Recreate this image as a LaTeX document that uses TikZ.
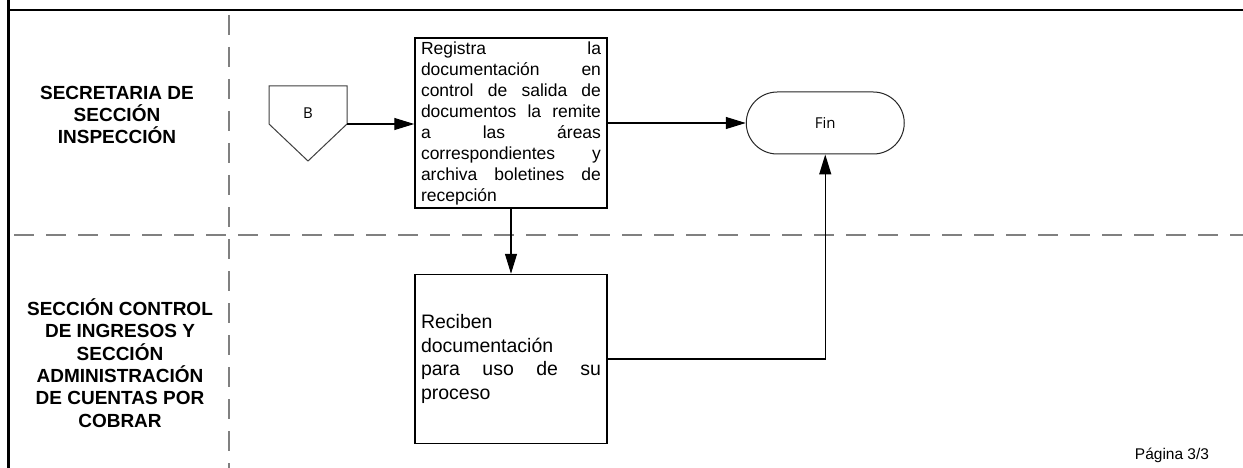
\documentclass[tikz,border=0pt]{standalone}
\usepackage{fontspec}
\setmainfont{Liberation Sans}
\newfontfamily\finfont{Open Sans}
\usetikzlibrary{arrows.meta,positioning}

\newcommand{\fila}[1]{{\spaceskip=0.3333em plus 20em\relax\makebox[180pt][s]{#1}}}

\begin{document}
\begin{tikzpicture}[x=1pt, y=-1pt,
    lane/.style={font=\fontsize{19}{22.3}\selectfont\bfseries, align=center},
    proc/.style={draw, line width=1.5pt, minimum width=192pt, inner sep=0pt,
        text width=180pt, align=left},
    term/.style={draw=black!85, line width=1pt, rounded corners=31pt,
        minimum width=158pt, minimum height=62pt, font=\finfont\fontsize{15}{18}\selectfont},
    flow/.style={line width=1.2pt, -{Triangle[length=20pt,width=12pt]}},
    sep/.style={draw=gray, line width=2.5pt, dash pattern=on 20pt off 12pt}]

        % Page and frame
        \fill[white] (0,0) rectangle (1243,468);
        \useasboundingbox (0,0) rectangle (1243,468);
        \draw[line width=2.8pt] (8.5,0) -- (8.5,468);
        \draw[line width=2.8pt] (8.5,10) -- (1243,10);

        % Lanes
        \draw[sep] (229,15) -- (229,468);
        \draw[sep] (14,235) -- (1243,235);
        \node[lane] (sec) at (117,115) {SECRETARIA DE\\SECCIÓN\\INSPECCIÓN};
        \node[lane] (ctl) at (120,363) {SECCIÓN CONTROL\\DE INGRESOS Y\\SECCIÓN\\ADMINISTRACIÓN\\DE CUENTAS POR\\COBRAR};

        % Off-page connector
        \draw[draw=black!75, line width=1pt] (269,86) -- (347,86) -- (347,124) -- (308,161) -- (269,124) -- cycle;
        \node[font=\finfont\fontsize{15}{18}\selectfont] (B) at (308,113) {B};
        \coordinate (Bsal) at (347,124);

        % Steps
        \node[proc, minimum height=170pt, font=\fontsize{17.5}{21}\selectfont] (reg) at (511,123)
            {\fila{Registra la}\\
             \fila{documentación en}\\
             \fila{control de salida de}\\
             \fila{documentos la remite}\\
             \fila{a las áreas}\\
             \fila{correspondientes y}\\
             \fila{archiva boletines de}\\
             recepción};
        \node[term, right=138pt of reg] (fin) {Fin};
        \node[proc, minimum height=169pt, below=65pt of reg, font=\fontsize{19.5}{23.7}\selectfont] (rec)
            {Reciben\\
             documentación\\
             \fila{para uso de su}\\
             proceso};

        % Connections
        \draw[flow] (Bsal) -- (Bsal -| reg.west);
        \draw[flow] (reg) -- (fin);
        \draw[flow] (reg) -- (rec);
        \draw[flow] (rec.east) -| (fin.south);

        \node (pag) at (1172,455) {\fontsize{15.5}{18}\selectfont Página 3/3};
\end{tikzpicture}
\end{document}
